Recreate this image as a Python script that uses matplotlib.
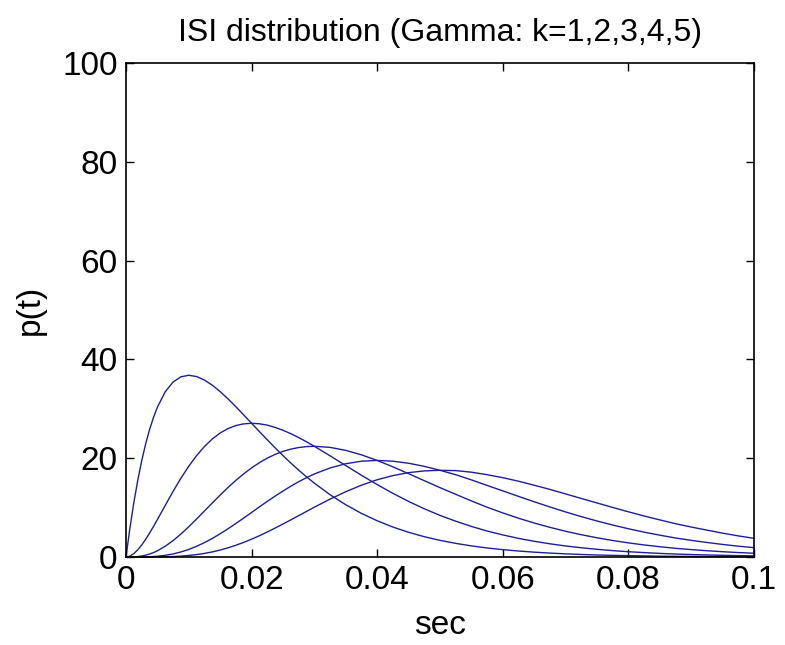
import matplotlib
matplotlib.use("Agg")
import matplotlib.pyplot as plt

# time grid (sec): finer where the curves bend sharply
t = ([i * 0.000625 for i in range(8)]
     + [0.005 + i * 0.00125 for i in range(20)]
     + [0.03 + i * 0.0025 for i in range(29)])

# ISI densities, one per curve (k=1..5)
p_k1 = [0, 5.87, 11.03, 15.54, 19.47, 22.86, 25.77, 28.25,
        30.33, 33.45, 35.43, 36.48, 36.79, 36.52, 35.81, 34.77, 33.47, 32.00, 30.41, 28.75,
        27.07, 25.38, 23.72, 22.09, 20.52, 19.02, 17.58, 16.22,
        14.94, 12.60, 10.57, 8.82, 7.33, 6.06, 5.00, 4.11, 3.37,
        2.76, 2.25, 1.83, 1.49, 1.21, 0.98, 0.79, 0.64, 0.51, 0.41,
        0.33, 0.27, 0.22, 0.17, 0.14, 0.11, 0.09, 0.07, 0.06, 0.05]
p_k2 = [0, 0.18, 0.69, 1.46, 2.43, 3.57, 4.83, 6.18,
        7.58, 10.45, 13.29, 15.96, 18.39, 20.54, 22.38, 23.90, 25.10, 26.00, 26.61, 26.95,
        27.07, 26.97, 26.69, 26.23, 25.65, 24.96, 24.17, 23.32,
        22.41, 20.48, 18.50, 16.54, 14.66, 12.88, 11.25, 9.76, 8.42,
        7.25, 6.19, 5.26, 4.47, 3.77, 3.18, 2.67, 2.23, 1.87, 1.56,
        1.29, 1.07, 0.89, 0.73, 0.60, 0.50, 0.41, 0.34, 0.28, 0.23]
p_k3 = [0, 0.00, 0.03, 0.09, 0.20, 0.37, 0.60, 0.90,
        1.26, 2.18, 3.32, 4.66, 6.13, 7.70, 9.33, 10.95, 12.55, 14.08, 15.52, 16.84,
        18.04, 19.10, 20.02, 20.77, 21.38, 21.84, 22.16, 22.35,
        22.41, 22.19, 21.58, 20.68, 19.55, 18.25, 16.87, 15.45, 14.04,
        12.69, 11.35, 10.08, 8.92, 7.85, 6.88, 6.00, 5.21, 4.51, 3.89,
        3.34, 2.86, 2.44, 2.08, 1.76, 1.50, 1.27, 1.07, 0.90, 0.76]
p_k4 = [0, 0.00, 0.00, 0.00, 0.01, 0.03, 0.06, 0.10,
        0.16, 0.34, 0.62, 1.02, 1.53, 2.17, 2.92, 3.76, 4.71, 5.72, 6.79, 7.89,
        9.02, 10.15, 11.26, 12.33, 13.36, 14.33, 15.24, 16.06,
        16.81, 18.03, 18.88, 19.39, 19.55, 19.39, 18.98, 18.35, 17.55,
        16.66, 15.61, 14.49, 13.38, 12.27, 11.18, 10.13, 9.12, 8.17, 7.29,
        6.47, 5.72, 5.03, 4.42, 3.85, 3.37, 2.94, 2.54, 2.19, 1.89]
p_k5 = [0, 0.00, 0.00, 0.00, 0.00, 0.00, 0.00, 0.01,
        0.02, 0.04, 0.09, 0.18, 0.31, 0.49, 0.73, 1.03, 1.41, 1.86, 2.38, 2.96,
        3.61, 4.31, 5.07, 5.86, 6.68, 7.52, 8.38, 9.23,
        10.09, 11.72, 13.22, 14.54, 15.64, 16.48, 17.08, 17.43, 17.55,
        17.49, 17.17, 16.66, 16.06, 15.34, 14.53, 13.68, 12.77, 11.85, 10.94,
        10.03, 9.15, 8.30, 7.51, 6.74, 6.07, 5.44, 4.83, 4.27, 3.78]

xticks = [0, 0.02, 0.04, 0.06, 0.08, 0.1]
xticklabels = ["0", "0.02", "0.04", "0.06", "0.08", "0.1"]
yticks = [0, 20, 40, 60, 80, 100]
yticklabels = ["0", "20", "40", "60", "80", "100"]

plt.rcParams['font.family'] = ['Liberation Sans', 'DejaVu Sans']

fig = plt.figure(figsize=(7.85, 6.45), dpi=100)
ax = fig.add_axes([126/785, 1 - 557/645, (754-126)/785, (557-63)/645])

color = '#1e1e9a'
for p in [p_k1, p_k2, p_k3, p_k4, p_k5]:
    ax.plot(t, p, color=color, lw=1.0, clip_on=False)

ax.set_xlim(0, 0.1)
ax.set_ylim(0, 100)
ax.set_xticks(xticks)
ax.set_xticklabels(xticklabels)
ax.set_yticks(yticks)
ax.set_yticklabels(yticklabels)
ax.tick_params(direction='in', top=True, right=True, length=6, width=1,
               labelsize=24, pad=6)
for s in ax.spines.values():
    s.set_linewidth(1.2)

ax.set_title("ISI distribution (Gamma: k=1,2,3,4,5)", fontsize=23, pad=16)
ax.set_xlabel("sec", fontsize=24, labelpad=10)
ax.set_ylabel("p(t)", fontsize=24, labelpad=12)

fig.savefig("out.png", dpi=100)
